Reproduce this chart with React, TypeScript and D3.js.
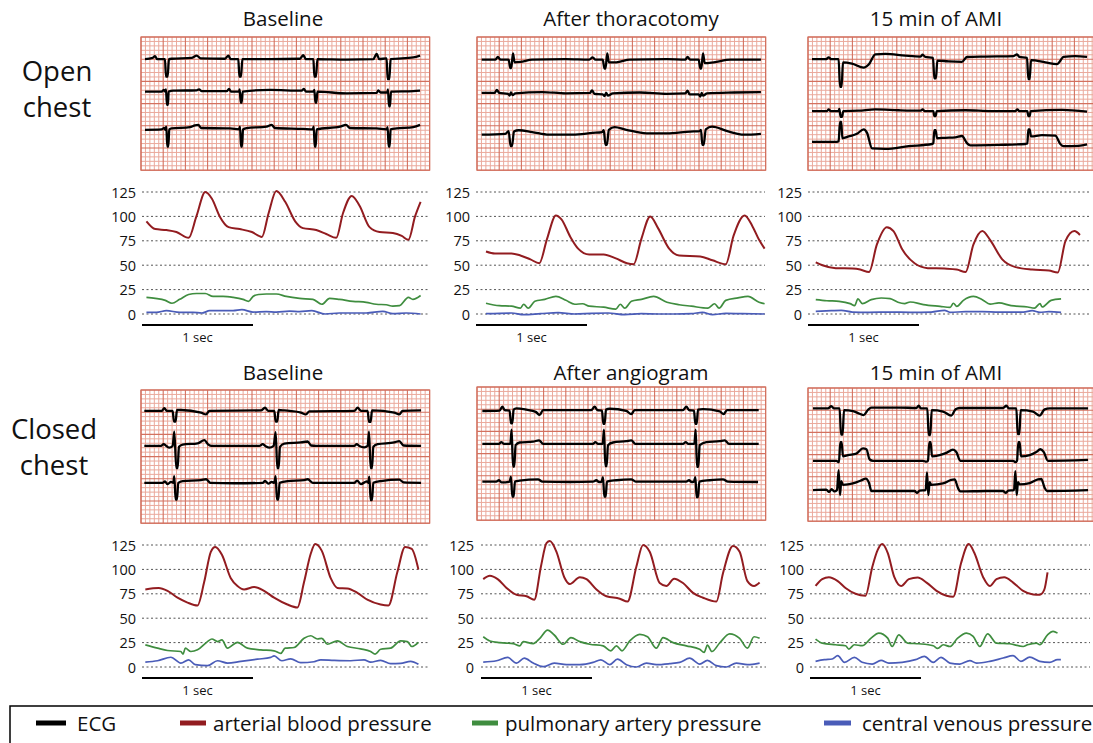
import React from "react";
import * as d3 from "d3";

type Pt = [number, number];

// ---- text ----
const rowLabels = [["Open", "chest"], ["Closed", "chest"]];
const titlesOpen = ["Baseline", "After thoracotomy", "15 min of AMI"];
const titlesClosed = ["Baseline", "After angiogram", "15 min of AMI"];
const pressureTicks = [0, 25, 50, 75, 100, 125];
const legendLabels = ["ECG", "arterial blood pressure", "pulmonary artery pressure", "central venous pressure"];
const colors = { ecg: "#000000", abp: "#921c20", pap: "#3f8d3f", cvp: "#4a5cb8" };

// ---- ECG leads: [time s, amplitude in mm of paper] ----
const ecgOpenBaseL1: Pt[] = [[.036,0],[.105,.3],[.126,.7],[.147,0],[.216,0],[.225,-3.9],[.240,-3.9],[.252,0],[.276,.1],[.456,.3],[.502,.8],[.538,.2],[.757,.1],[.787,.8],[.808,0],[.877,0],[.886,-3.9],[.901,-3.9],[.913,0],[1.162,0],[1.432,.1],[1.462,.9],[1.486,0],[1.553,0],[1.562,-3.9],[1.577,-3.9],[1.589,0],[1.853,-.1],[2.093,0],[2.123,1.2],[2.147,0],[2.213,.2],[2.222,-4.5],[2.237,-4.5],[2.249,0],[2.453,.4],[2.514,.8]];
const ecgOpenBaseL2: Pt[] = [[.036,0],[.186,0],[.207,.4],[.219,0],[.225,.5],[.234,-3],[.243,-3],[.249,0],[.291,.2],[.502,.3],[.523,.5],[.547,.1],[.772,.1],[.793,.6],[.811,0],[.883,0],[.889,.5],[.898,-2.5],[.907,-2.5],[.916,0],[1.162,.4],[1.447,.2],[1.468,.6],[1.486,0],[1.553,0],[1.562,.4],[1.571,-2.5],[1.580,-2.5],[1.589,0],[1.853,-.4],[2.123,-.3],[2.138,.3],[2.159,-.2],[2.219,-.2],[2.225,.5],[2.234,-3.3],[2.243,-3.3],[2.252,0],[2.453,.1],[2.514,.2]];
const ecgOpenBaseL3: Pt[] = [[.036,-.1],[.186,0],[.210,.3],[.219,-.1],[.228,.6],[.237,-3.9],[.246,-3.9],[.255,0],[.276,.2],[.441,.5],[.486,.9],[.517,1.0],[.541,.3],[.772,.2],[.802,.2],[.883,0],[.892,.6],[.901,-3.9],[.910,-3.9],[.919,0],[.952,.3],[1.132,.6],[1.177,1.0],[1.207,.3],[1.462,.1],[1.547,0],[1.556,.6],[1.565,-3.9],[1.574,-3.9],[1.583,0],[1.793,.6],[1.847,1.0],[1.883,.3],[2.123,.2],[2.213,0],[2.222,.5],[2.231,-3.9],[2.240,-3.9],[2.249,0],[2.303,.2],[2.453,.5],[2.514,1.0]];

const ecgOpenThorL1: Pt[] = [[.042,0],[.164,0],[.188,.6],[.212,0],[.285,0],[.300,-1.9],[.309,-1.9],[.324,1.4],[.339,-.6],[.391,-.5],[.497,0],[.800,.1],[1.012,0],[1.042,.5],[1.067,0],[1.133,0],[1.148,-2],[1.158,-2],[1.173,1.4],[1.188,-.6],[1.255,-.6],[1.376,0],[1.709,.1],[1.876,0],[1.897,.6],[1.921,0],[1.997,0],[2.012,-2],[2.021,-2],[2.036,1.4],[2.052,-.8],[2.133,-.6],[2.285,0],[2.558,0]];
const ecgOpenThorL2: Pt[] = [[.042,0],[.158,0],[.179,.7],[.200,0],[.279,-.2],[.294,-.6],[.306,.1],[.321,-.5],[.345,-.1],[.588,.2],[.800,-.1],[1.018,0],[1.036,.6],[1.058,-.2],[1.133,-.3],[1.148,-.7],[1.164,0],[1.179,-.6],[1.224,-.1],[1.467,.1],[1.709,-.2],[1.876,-.1],[1.897,.5],[1.915,-.3],[1.997,-.3],[2.012,-.8],[2.024,0],[2.036,-.6],[2.073,-.1],[2.315,.1],[2.558,.2]];
const ecgOpenThorL3: Pt[] = [[.042,-.2],[.255,0],[.285,.6],[.303,-2.8],[.315,-2.8],[.333,.5],[.376,.8],[.497,.4],[.648,-.2],[.861,-.2],[1.042,.2],[1.127,.4],[1.142,.8],[1.158,-2.5],[1.170,-2.5],[1.188,.9],[1.239,1.5],[1.345,.9],[1.527,.1],[1.709,.1],[1.921,.5],[2.006,.6],[2.018,.9],[2.030,-2.5],[2.042,-2.5],[2.061,1.0],[2.118,1.6],[2.255,.6],[2.406,-.2],[2.558,0]];

const ecgOpenAmiL1: Pt[] = [[.036,0],[.162,0],[.186,.4],[.210,0],[.276,0],[.288,-6.2],[.303,-6.2],[.315,-.7],[.396,-1.0],[.502,-1.9],[.547,-1.2],[.607,1.1],[.697,1.2],[.877,.8],[1.012,.6],[1.033,1.0],[1.057,.5],[1.126,.3],[1.138,-4.3],[1.153,-4.3],[1.165,-.3],[1.267,-.5],[1.387,-.6],[1.432,.5],[1.598,.6],[1.853,.7],[1.883,1.1],[1.904,.5],[1.973,.3],[1.985,-4.5],[1.997,-4.5],[2.009,-.2],[2.138,-.7],[2.243,-1.1],[2.303,.5],[2.408,.7],[2.514,.5]];
const ecgOpenAmiL2: Pt[] = [[.036,0],[.171,0],[.186,.4],[.204,0],[.276,0],[.282,.5],[.294,-1.3],[.306,-1.3],[.318,0],[.456,.1],[.607,.4],[.817,.2],[1.012,.1],[1.033,.4],[1.051,0],[1.129,0],[1.138,-1.1],[1.150,-1.1],[1.159,0],[1.417,.2],[1.658,0],[1.868,0],[1.886,.4],[1.904,0],[1.976,0],[1.985,-1.1],[1.997,-1.1],[2.006,0],[2.288,.3],[2.514,-.1]];
const ecgOpenAmiL3: Pt[] = [[.036,0],[.261,0],[.276,.1],[.288,4.5],[.300,4.5],[.309,.8],[.366,1.2],[.441,1.8],[.502,2.8],[.532,2.0],[.577,-1.5],[.697,-1.6],[.907,-1.0],[1.117,-.5],[1.129,-.3],[1.138,2.6],[1.150,2.6],[1.162,.8],[1.237,.9],[1.327,1.0],[1.387,1.3],[1.432,-.3],[1.462,-.8],[1.718,-.7],[1.958,-.5],[1.976,-.4],[1.985,2.8],[1.997,2.8],[2.009,1.2],[2.108,1.5],[2.228,1.4],[2.273,-.5],[2.303,-1.0],[2.438,-.9],[2.514,-.6]];

const ecgClosedBaseL1: Pt[] = [[.030,0],[.186,0],[.210,.6],[.234,0],[.285,0],[.297,-2.4],[.312,-2.4],[.324,.2],[.360,.2],[.541,-.4],[.586,-.8],[.616,0],[1.081,.1],[1.117,.7],[1.147,0],[1.201,0],[1.213,-2.4],[1.228,-2.4],[1.240,.2],[1.291,.1],[1.441,-.4],[1.486,-.8],[1.517,-.1],[1.922,0],[1.952,.7],[1.982,0],[2.042,0],[2.054,-2.5],[2.069,-2.5],[2.081,.1],[2.282,-.4],[2.327,-.8],[2.357,0],[2.523,.1]];
const ecgClosedBaseL2: Pt[] = [[.030,0],[.180,0],[.204,.4],[.228,0],[.255,-.4],[.285,0],[.300,3.2],[.318,-5],[.330,-5],[.342,-.2],[.375,.3],[.511,.6],[.571,1.3],[.607,.3],[.637,0],[1.066,0],[1.096,.4],[1.120,0],[1.156,-.4],[1.195,0],[1.213,3.1],[1.228,-5],[1.240,-5],[1.252,-.2],[1.291,.5],[1.441,.8],[1.502,1.0],[1.532,.1],[1.577,0],[1.922,0],[1.943,.4],[1.967,0],[2.012,-.3],[2.042,0],[2.054,3.2],[2.069,-5],[2.081,-5],[2.093,-.2],[2.132,.4],[2.282,.8],[2.327,1.1],[2.366,.1],[2.523,0]];
const ecgClosedBaseL3: Pt[] = [[.030,0],[.195,0],[.216,.3],[.240,-.3],[.270,.2],[.291,0],[.300,1.5],[.312,-3.8],[.324,-3.8],[.336,0],[.375,.4],[.541,.6],[.586,.8],[.625,0],[.841,-.1],[1.096,0],[1.117,.4],[1.147,-.2],[1.177,.2],[1.201,0],[1.213,1.5],[1.225,-3.8],[1.237,-3.8],[1.249,0],[1.321,.4],[1.471,.6],[1.502,.8],[1.547,0],[1.922,0],[1.946,.5],[1.982,-.3],[2.033,.3],[2.048,0],[2.057,1.4],[2.069,-3.9],[2.081,-3.9],[2.093,0],[2.162,.4],[2.327,.7],[2.366,.1],[2.523,0]];

const ecgClosedAngioL1: Pt[] = [[.048,-.1],[.204,0],[.228,.9],[.249,.1],[.294,0],[.306,-2.9],[.318,-2.9],[.330,.2],[.354,.5],[.444,.2],[.529,-.3],[.565,-1.0],[.595,.1],[.805,.1],[1.030,.1],[1.060,.9],[1.084,.1],[1.126,0],[1.138,-3],[1.150,-3],[1.162,.2],[1.195,.4],[1.345,-.1],[1.390,-.8],[1.420,.1],[1.646,.1],[1.856,.1],[1.886,.9],[1.910,.1],[1.955,0],[1.967,-3],[1.979,-3],[1.991,.2],[2.036,.3],[2.186,-.2],[2.222,-.8],[2.252,.1],[2.538,.1]];
const ecgClosedAngioL2: Pt[] = [[.048,0],[.198,0],[.219,.4],[.243,0],[.300,0],[.312,3.2],[.324,-5.1],[.336,-5.1],[.348,-.3],[.384,.3],[.505,.5],[.559,.8],[.595,0],[1.045,0],[1.066,.4],[1.090,0],[1.132,0],[1.144,3.2],[1.156,-5],[1.168,-5],[1.180,-.3],[1.225,.3],[1.345,.6],[1.390,.8],[1.426,0],[1.856,0],[1.880,.4],[1.904,0],[1.958,0],[1.970,3.2],[1.982,-5.2],[1.994,-5.2],[2.006,-.3],[2.066,.4],[2.186,.6],[2.231,.8],[2.270,0],[2.538,0]];
const ecgClosedAngioL3: Pt[] = [[.048,0],[.174,0],[.198,.3],[.222,-.2],[.294,0],[.306,1.1],[.318,-3.4],[.330,-3.4],[.342,0],[.384,.2],[.550,.5],[.589,0],[.835,-.1],[1.045,0],[1.075,.3],[1.099,-.1],[1.123,0],[1.135,1.0],[1.147,-3.4],[1.159,-3.4],[1.171,0],[1.255,.3],[1.390,.5],[1.429,0],[1.886,0],[1.910,.3],[1.934,-.1],[1.955,0],[1.967,1.0],[1.979,-3.5],[1.991,-3.5],[2.003,0],[2.096,.3],[2.216,.5],[2.261,0],[2.532,-.1]];

const ecgClosedAmiL1: Pt[] = [[.045,0],[.180,0],[.210,.5],[.234,0],[.285,0],[.297,-5.9],[.312,-5.9],[.324,-.4],[.405,-.6],[.465,-1.2],[.502,-1.5],[.541,-.3],[.571,.2],[.826,.2],[.976,.1],[.997,.6],[1.018,0],[1.075,0],[1.087,-6],[1.102,-6],[1.114,-.4],[1.216,-.7],[1.291,-1.6],[1.330,-.2],[1.366,.1],[1.757,.1],[1.787,.6],[1.811,0],[1.877,0],[1.889,-5.8],[1.904,-5.8],[1.916,-.4],[2.027,-.7],[2.087,-1.6],[2.132,-.2],[2.177,0],[2.523,0]];
const ecgClosedAmiL2: Pt[] = [[.045,0],[.255,0],[.279,-.3],[.291,4.2],[.303,4.2],[.315,1.0],[.360,1.3],[.435,1.6],[.495,2.8],[.526,2.6],[.556,.3],[.586,0],[1.036,0],[1.066,-.2],[1.081,0],[1.093,4.2],[1.105,4.2],[1.117,1.0],[1.186,1.3],[1.246,1.8],[1.306,2.5],[1.336,2.0],[1.372,0],[1.847,0],[1.871,-.3],[1.883,0],[1.895,4.2],[1.907,4.2],[1.919,1.0],[1.997,1.3],[2.057,2.0],[2.093,2.6],[2.123,2.0],[2.162,0],[2.523,.2]];
const ecgClosedAmiL3: Pt[] = [[.045,0],[.165,.1],[.189,-.4],[.213,.2],[.237,-.3],[.261,0],[.276,4.5],[.288,-1.1],[.300,2.0],[.315,1.2],[.405,1.5],[.480,2.2],[.520,2.6],[.550,1.6],[.571,-.2],[.826,-.2],[.961,-.2],[.982,-.6],[1.006,-.1],[1.060,0],[1.072,4.0],[1.084,-1.1],[1.096,1.8],[1.111,1.2],[1.216,1.5],[1.291,2.3],[1.321,2.4],[1.351,.5],[1.372,-.3],[1.607,-.2],[1.757,-.2],[1.781,-.6],[1.805,-.1],[1.856,0],[1.868,4.3],[1.880,-1.1],[1.892,1.8],[1.907,1.3],[1.997,1.6],[2.072,2.4],[2.102,2.5],[2.132,.5],[2.153,-.2],[2.523,0]];

// ---- pressures: [time s, mmHg] ----
const abpOpenBase: Pt[] = [[.04,95],[.12,87],[.22,86],[.31,84],[.42,78],[.49,100],[.57,125],[.63,118],[.70,100],[.78,89],[.88,87],[.99,84],[1.08,79],[1.14,103],[1.21,126],[1.29,115],[1.38,95],[1.45,88],[1.57,86],[1.66,82],[1.75,78],[1.81,103],[1.89,121],[1.96,111],[2.05,89],[2.14,84],[2.26,83],[2.34,80],[2.40,76],[2.46,100],[2.51,115]];
const papOpenBase: Pt[] = [[.04,17],[.12,16],[.21,14],[.27,11],[.34,15],[.42,20],[.49,21],[.57,21],[.64,18],[.73,18],[.82,17],[.91,15],[.96,13],[1.00,18],[1.05,20],[1.12,20.5],[1.21,20.5],[1.30,18],[1.42,16],[1.54,15],[1.62,10],[1.69,16],[1.78,15],[1.90,13],[2.02,12],[2.11,10],[2.20,9.5],[2.26,8],[2.32,8.5],[2.40,17],[2.44,15],[2.51,19]];
const cvpOpenBase: Pt[] = [[.04,1.7],[.13,1.7],[.22,3.4],[.34,1.7],[.46,1.7],[.54,1],[.61,3.4],[.73,3.4],[.82,3.4],[.90,4.4],[1.00,2],[1.12,2.4],[1.21,2],[1.33,3],[1.42,2.4],[1.53,3.4],[1.65,0],[1.78,1],[1.90,1],[2.02,1],[2.17,2.7],[2.26,.3],[2.38,1],[2.51,0]];

const abpOpenThor: Pt[] = [[.09,64],[.17,62],[.32,62],[.40,60],[.49,56],[.57,52],[.64,77],[.72,101],[.77,97],[.85,79],[.92,67],[1.02,61],[1.15,61],[1.26,57],[1.36,52],[1.42,51],[1.49,77],[1.57,100],[1.64,88],[1.74,67],[1.83,60],[2.02,59],[2.13,55],[2.25,51],[2.32,80],[2.42,101],[2.49,90],[2.55,76],[2.60,67]];
const papOpenThor: Pt[] = [[.09,11],[.21,8.5],[.32,8],[.40,6],[.43,10],[.47,6],[.53,13],[.62,15],[.72,18],[.81,14],[.89,10],[.96,10.5],[1.02,8],[1.15,7],[1.26,5],[1.30,10],[1.34,6],[1.40,13],[1.49,15],[1.60,18],[1.72,12],[1.83,9.5],[1.94,8],[2.09,6],[2.15,10.5],[2.19,6],[2.25,14],[2.36,16.5],[2.45,18],[2.55,12],[2.60,10.5]];
const cvpOpenThor: Pt[] = [[.09,.3],[.32,1],[.43,-.7],[.58,.3],[.74,1.4],[.89,0],[1.04,.7],[1.19,1],[1.34,-.7],[1.49,.3],[1.64,0],[1.79,0],[1.94,.3],[2.04,1.7],[2.13,-.7],[2.25,.7],[2.40,.3],[2.60,0]];

const abpOpenAmi: Pt[] = [[.07,53],[.13,50],[.25,47],[.40,46.5],[.47,45.5],[.55,43],[.62,71],[.71,89],[.77,85],[.85,66],[.96,52],[1.08,47],[1.23,46.5],[1.34,45.5],[1.42,43],[1.49,71],[1.57,85],[1.64,76],[1.75,56],[1.87,48],[2.02,45.5],[2.17,44.5],[2.25,42.5],[2.32,75],[2.40,85],[2.45,81]];
const papOpenAmi: Pt[] = [[.07,14.7],[.17,13.6],[.28,13],[.38,10.6],[.42,8.5],[.45,15.4],[.49,10.6],[.57,14.7],[.66,16.4],[.74,15.7],[.81,12],[.87,10.6],[.92,12.3],[1.04,9.6],[1.19,7.8],[1.28,6.8],[1.31,11],[1.34,7.8],[1.40,14],[1.49,18],[1.57,14.7],[1.64,10.2],[1.72,11.3],[1.83,8.5],[1.98,7.2],[2.04,6],[2.09,10.6],[2.11,7.2],[2.19,14],[2.28,15.4]];
const cvpOpenAmi: Pt[] = [[.07,2.7],[.21,3.4],[.30,3.8],[.40,2],[.55,1.7],[.74,2],[.92,1.7],[1.11,2],[1.23,3.8],[1.28,1.7],[1.42,2.4],[1.57,2.4],[1.72,2],[1.94,2],[2.02,3.4],[2.09,1.7],[2.17,2.4],[2.28,1.7]];

const abpClosedBase: Pt[] = [[.03,79.5],[.15,81],[.23,78],[.32,71],[.41,66],[.50,63],[.56,87],[.62,118],[.66,123],[.72,115],[.80,91],[.86,83],[.92,79.5],[1.01,82],[1.10,78],[1.19,71],[1.31,64],[1.40,61],[1.46,87],[1.52,116],[1.56,126],[1.62,119],[1.70,91],[1.76,81],[1.85,80.5],[1.94,76],[2.03,69],[2.15,64],[2.22,63],[2.30,97],[2.37,123],[2.43,121],[2.49,100]];
const papClosedBase: Pt[] = [[.03,22.6],[.14,19.3],[.23,16.9],[.35,15.9],[.37,13.2],[.39,19.3],[.44,15.9],[.50,17.6],[.59,26],[.63,28.7],[.68,26],[.72,27.7],[.77,19.3],[.86,25.3],[.95,19.3],[1.07,17.6],[1.19,16.6],[1.25,13.9],[1.29,19.3],[1.37,20],[1.46,29.4],[1.52,32],[1.58,28.7],[1.62,29.4],[1.67,23.3],[1.76,26.7],[1.85,21],[1.97,18.6],[2.06,15.9],[2.10,13.2],[2.15,18.2],[2.24,19.3],[2.33,26.7],[2.39,26],[2.43,21],[2.49,25.3]];
const cvpClosedBase: Pt[] = [[.03,5],[.14,6.4],[.26,10],[.35,4],[.42,7.4],[.48,2.4],[.59,1.4],[.68,6.4],[.77,4],[.89,5.7],[1.04,8],[1.16,9.8],[1.19,11.5],[1.26,6.4],[1.34,8.4],[1.43,4.4],[1.55,5.4],[1.61,7.4],[1.73,6.8],[1.88,6.4],[2.00,7.4],[2.06,5],[2.15,6.8],[2.24,3.4],[2.33,3.7],[2.42,5.7],[2.49,2.7]];

const abpClosedAngio: Pt[] = [[.02,90],[.08,93.5],[.15,90],[.23,81],[.32,74],[.41,72.5],[.48,69],[.54,103],[.59,127],[.62,129],[.68,118],[.75,92],[.80,85],[.89,92],[.95,90],[1.04,79.5],[1.13,72.5],[1.25,70],[1.32,67],[1.40,103],[1.46,125],[1.52,118],[1.61,86],[1.67,83],[1.74,90.5],[1.82,86],[1.91,76],[2.00,71],[2.12,67],[2.18,96],[2.27,124],[2.33,118],[2.40,88],[2.46,83],[2.51,86.5]];
const papClosedAngio: Pt[] = [[.02,31],[.08,26.7],[.17,25],[.29,24],[.35,21.7],[.38,26],[.47,24],[.53,29.4],[.60,37.8],[.66,32.8],[.74,23.3],[.81,30],[.89,26],[.98,23.3],[1.10,21.7],[1.17,16.6],[1.22,21.7],[1.27,16.6],[1.34,26.7],[1.43,33.5],[1.50,31],[1.58,19.3],[1.64,30],[1.73,25],[1.85,21.7],[1.97,18.2],[2.01,14.9],[2.04,22.4],[2.08,15.9],[2.15,24.6],[2.24,34],[2.33,29.4],[2.40,19.3],[2.46,31],[2.51,29.4]];
const cvpClosedAngio: Pt[] = [[.02,5],[.14,6.4],[.24,9.8],[.32,4],[.39,9],[.47,4],[.56,.3],[.66,4],[.77,2.4],[.89,2.4],[1.01,4.7],[1.08,7.4],[1.16,2.4],[1.23,8],[1.31,2.4],[1.40,0],[1.49,4],[1.58,2.4],[1.70,3.4],[1.79,4.7],[1.88,9],[1.97,3],[2.04,6.8],[2.12,1.4],[2.21,0],[2.30,4],[2.40,2.4],[2.51,4]];

const abpClosedAmi: Pt[] = [[.05,83],[.11,90],[.17,92],[.25,88],[.32,81],[.41,75],[.50,73],[.56,102],[.61,120],[.65,126],[.70,117],[.76,92],[.82,83],[.89,90],[.97,91.7],[1.05,86.5],[1.14,78],[1.23,73],[1.29,72],[1.36,106],[1.43,126],[1.48,117],[1.56,92],[1.62,83],[1.68,90],[1.75,92],[1.83,86.5],[1.92,78],[2.01,74.3],[2.07,74],[2.11,79],[2.14,97]];
const papClosedAmi: Pt[] = [[.05,28.6],[.11,24.5],[.23,22.8],[.32,21.8],[.35,18.4],[.40,22.8],[.47,21.8],[.55,29.6],[.62,34.7],[.70,29.6],[.74,21],[.80,33],[.88,24.5],[.98,23.8],[1.11,21.8],[1.15,19],[1.20,22.8],[1.26,21],[1.33,29.6],[1.41,34.7],[1.47,31.3],[1.53,21],[1.60,34],[1.68,24.5],[1.80,23.8],[1.92,21],[1.96,22.8],[2.04,24.5],[2.07,22.8],[2.14,33],[2.19,36.4],[2.23,34.7]];
const cvpClosedAmi: Pt[] = [[.05,5.8],[.13,7.5],[.20,8.2],[.25,11.6],[.31,4.8],[.40,9.9],[.47,4.8],[.56,3],[.64,6.8],[.71,4],[.83,4.8],[.95,7.5],[1.03,10.9],[1.11,4.8],[1.18,9.9],[1.26,4],[1.35,3],[1.44,6.5],[1.50,4],[1.62,5.8],[1.74,9.2],[1.83,11.6],[1.90,5.8],[1.98,10.2],[2.07,5.8],[2.16,4.8],[2.23,7.5],[2.26,7.5]];

// ---- layout ----
const W = 1093;
const H = 743;
const SEC = 111; // px per second (25 mm/s paper)
const MM = SEC / 25;
const FONT = "'Open Sans', 'Noto Sans', sans-serif";

const ecgPanels = [
  { x: 141, y: 37, cols: 65, leads: [ecgOpenBaseL1, ecgOpenBaseL2, ecgOpenBaseL3], offs: [5.0, 12.3, 20.8] },
  { x: 477, y: 37, cols: 65, leads: [ecgOpenThorL1, ecgOpenThorL2, ecgOpenThorL3], offs: [5.1, 12.6, 21.8] },
  { x: 808, y: 37, cols: 64.5, leads: [ecgOpenAmiL1, ecgOpenAmiL2, ecgOpenAmiL3], offs: [5.0, 16.7, 23.6] },
  { x: 141, y: 390, cols: 65, leads: [ecgClosedBaseL1, ecgClosedBaseL2, ecgClosedBaseL3], offs: [4.7, 12.6, 20.9] },
  { x: 477, y: 387, cols: 65, leads: [ecgClosedAngioL1, ecgClosedAngioL2, ecgClosedAngioL3], offs: [5.3, 12.8, 21.3] },
  { x: 808, y: 388, cols: 64.5, leads: [ecgClosedAmiL1, ecgClosedAmiL2, ecgClosedAmiL3], offs: [4.6, 16.4, 23.0] },
];

const pressurePanels = [
  { gx0: 142, gx1: 430, lx: 136, y0: 314, y125: 192, abp: abpOpenBase, pap: papOpenBase, cvp: cvpOpenBase },
  { gx0: 476, gx1: 765, lx: 470, y0: 314, y125: 192, abp: abpOpenThor, pap: papOpenThor, cvp: cvpOpenThor },
  { gx0: 808, gx1: 1090, lx: 802, y0: 314, y125: 192, abp: abpOpenAmi, pap: papOpenAmi, cvp: cvpOpenAmi },
  { gx0: 142, gx1: 430, lx: 136, y0: 667, y125: 545, abp: abpClosedBase, pap: papClosedBase, cvp: cvpClosedBase },
  { gx0: 481, gx1: 766, lx: 474, y0: 667, y125: 545, abp: abpClosedAngio, pap: papClosedAngio, cvp: cvpClosedAngio },
  { gx0: 810, gx1: 1090, lx: 804, y0: 667, y125: 545, abp: abpClosedAmi, pap: papClosedAmi, cvp: cvpClosedAmi },
];

const titleX = [283, 631, 936];

const EcgPanel = ({ p }: { p: (typeof ecgPanels)[number] }) => {
  const w = p.cols * MM;
  const h = 30 * MM;
  const xs = d3.scaleLinear().domain([0, 1]).range([p.x, p.x + SEC]);
  const vCols = d3.range(0, Math.floor(p.cols) + 1);
  const hRows = d3.range(0, 31);
  return (
    <g>
      {vCols.filter((i) => i % 5 !== 0).map((i) => (
        <line key={"vm" + i} x1={p.x + i * MM} x2={p.x + i * MM} y1={p.y} y2={p.y + h} stroke="#eaa99c" strokeWidth={1} />
      ))}
      {hRows.filter((j) => j % 5 !== 0).map((j) => (
        <line key={"hm" + j} x1={p.x} x2={p.x + w} y1={p.y + j * MM} y2={p.y + j * MM} stroke="#eaa99c" strokeWidth={1} />
      ))}
      {vCols.filter((i) => i % 5 === 0).map((i) => (
        <line key={"vM" + i} x1={p.x + i * MM} x2={p.x + i * MM} y1={p.y} y2={p.y + h} stroke="#d3715f" strokeWidth={1.1} />
      ))}
      {hRows.filter((j) => j % 5 === 0).map((j) => (
        <line key={"hM" + j} x1={p.x} x2={p.x + w} y1={p.y + j * MM} y2={p.y + j * MM} stroke="#d3715f" strokeWidth={1.1} />
      ))}
      <rect x={p.x} y={p.y} width={w} height={h} fill="none" stroke="#d3715f" strokeWidth={1.2} />
      {p.leads.map((lead, k) => {
        const ys = d3.scaleLinear().domain([0, 1]).range([p.y + p.offs[k] * MM, p.y + (p.offs[k] - 1) * MM]);
        const line = d3.line<Pt>().x((d) => xs(d[0])).y((d) => ys(d[1])).curve(d3.curveMonotoneX);
        return <path key={k} d={line(lead) || ""} fill="none" stroke={colors.ecg} strokeWidth={2.3} strokeLinejoin="round" />;
      })}
    </g>
  );
};

const PressurePanel = ({ p }: { p: (typeof pressurePanels)[number] }) => {
  const xs = d3.scaleLinear().domain([0, 1]).range([p.gx0, p.gx0 + SEC]);
  const ys = d3.scaleLinear().domain([0, 125]).range([p.y0, p.y125]);
  const line = d3.line<Pt>().x((d) => xs(d[0])).y((d) => ys(d[1])).curve(d3.curveMonotoneX);
  const barY = p.y0 + 11;
  return (
    <g>
      {pressureTicks.map((t) => (
        <g key={t}>
          <line x1={p.gx0} x2={p.gx1} y1={ys(t)} y2={ys(t)} stroke="#555" strokeWidth={1} strokeDasharray="2 2.5" />
          <text x={p.lx} y={ys(t)} textAnchor="end" dominantBaseline="central" fontSize={14.5} fontFamily={FONT} fill="#111">
            {t}
          </text>
        </g>
      ))}
      <path d={line(p.cvp) || ""} fill="none" stroke={colors.cvp} strokeWidth={1.7} />
      <path d={line(p.pap) || ""} fill="none" stroke={colors.pap} strokeWidth={1.7} />
      <path d={line(p.abp) || ""} fill="none" stroke={colors.abp} strokeWidth={2} />
      <line x1={xs(0)} x2={xs(1)} y1={barY} y2={barY} stroke="#000" strokeWidth={2} />
      <text x={xs(0.5)} y={barY + 12} textAnchor="middle" dominantBaseline="central" fontSize={13} fontFamily={FONT} fill="#111">
        1 sec
      </text>
    </g>
  );
};

const legendPos = [
  { x1: 36, x2: 66, tx: 77, c: colors.ecg },
  { x1: 180, x2: 206, tx: 213, c: colors.abp },
  { x1: 472, x2: 498, tx: 505, c: colors.pap },
  { x1: 824, x2: 851, tx: 862, c: colors.cvp },
];

export default function App() {
  return (
    <div style={{ position: "absolute", left: 0, top: 0 }}>
      <svg width={W} height={H} style={{ display: "block", background: "#fff" }}>
        {rowLabels.map((lines, r) => (
          <g key={r}>
            {lines.map((s, i) => (
              <text key={i} x={r === 0 ? 57 : 54} y={(r === 0 ? 70 : 428) + i * 36} textAnchor="middle" dominantBaseline="central" fontSize={27.5} fontFamily={FONT} fill="#111">
                {s}
              </text>
            ))}
          </g>
        ))}
        {titlesOpen.map((t, i) => (
          <text key={"to" + i} x={titleX[i]} y={18} textAnchor="middle" dominantBaseline="central" fontSize={20.5} fontFamily={FONT} fill="#111">
            {t}
          </text>
        ))}
        {titlesClosed.map((t, i) => (
          <text key={"tc" + i} x={titleX[i]} y={372} textAnchor="middle" dominantBaseline="central" fontSize={20.5} fontFamily={FONT} fill="#111">
            {t}
          </text>
        ))}
        {ecgPanels.map((p, i) => (
          <EcgPanel key={i} p={p} />
        ))}
        {pressurePanels.map((p, i) => (
          <PressurePanel key={i} p={p} />
        ))}
        <rect x={10} y={706} width={1100} height={50} fill="none" stroke="#000" strokeWidth={1.5} />
        {legendLabels.map((s, i) => (
          <g key={s}>
            <line x1={legendPos[i].x1} x2={legendPos[i].x2} y1={723} y2={723} stroke={legendPos[i].c} strokeWidth={5} />
            <text x={legendPos[i].tx} y={723} dominantBaseline="central" fontSize={20.5} fontFamily={FONT} fill="#111">
              {s}
            </text>
          </g>
        ))}
      </svg>
    </div>
  );
}
